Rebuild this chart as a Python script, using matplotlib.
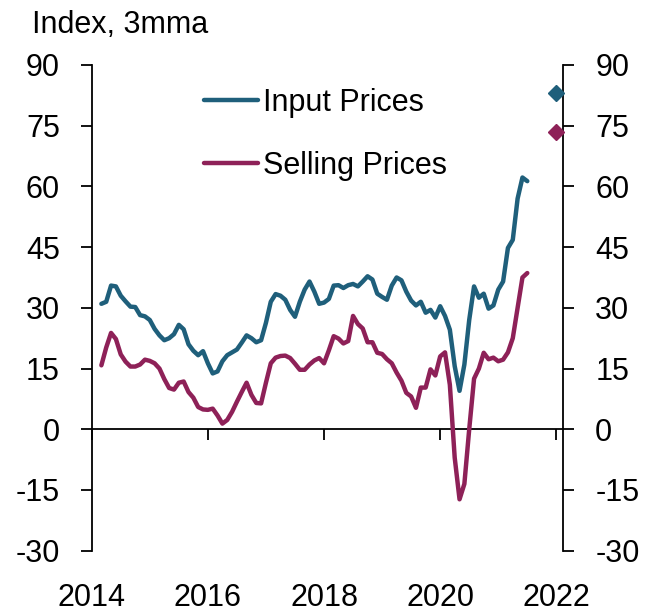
# -*- coding: utf-8 -*-
# Input vs selling prices, index 3mma

import numpy as np
import pandas as pd
import matplotlib
matplotlib.use('Agg')
import matplotlib.pyplot as plt

plt.rcParams['font.family'] = ['Liberation Sans', 'DejaVu Sans']
plt.rcParams['font.size'] = 22
plt.rcParams['axes.unicode_minus'] = False

# ---------------------------------- data -------------------------------------
dates = pd.date_range('2014-03-01', periods=89, freq='MS')

input_prices = [
    31.0, 31.5, 35.5, 35.3, 33.0, 31.6, 30.3, 30.2, 28.2, 27.9,
    27.0, 24.8, 23.2, 22.0, 22.5, 23.5, 25.8, 24.7, 21.0, 19.4,
    18.3, 19.3, 16.3, 13.8, 14.3, 16.8, 18.3, 19.0, 19.7, 21.4,
    23.2, 22.5, 21.5, 22.0, 26.3, 31.5, 33.4, 33.0, 32.0, 29.5,
    27.8, 31.5, 34.5, 36.5, 34.0, 31.0, 31.3, 32.2, 35.5, 35.6,
    34.9, 35.6, 35.9, 35.3, 36.5, 37.8, 37.0, 33.5, 32.7, 32.0,
    35.5, 37.5, 36.8, 34.0, 31.8, 30.6, 31.5, 28.8, 29.5, 27.6,
    30.4, 28.0, 24.6, 15.6, 9.5, 16.0, 27.0, 35.3, 32.5, 33.5,
    29.8, 30.6, 34.5, 36.5, 44.8, 46.8, 57.0, 62.2, 61.3,
]

selling_prices = [
    15.8, 20.2, 23.8, 22.3, 18.5, 16.7, 15.5, 15.5, 16.0, 17.2,
    16.9, 16.3, 15.0, 12.4, 10.2, 9.8, 11.5, 11.8, 9.2, 7.8,
    5.5, 4.9, 4.8, 5.1, 3.4, 1.4, 2.3, 4.3, 6.8, 9.2,
    11.5, 8.5, 6.5, 6.4, 11.5, 16.3, 17.7, 18.1, 18.2, 17.6,
    16.2, 14.7, 14.7, 16.0, 17.0, 17.6, 16.3, 19.5, 23.0, 22.4,
    21.2, 21.8, 28.0, 26.0, 24.9, 21.5, 21.5, 18.9, 18.6, 17.3,
    16.3, 14.0, 12.0, 9.0, 8.1, 5.3, 10.3, 10.3, 14.8, 13.3,
    18.0, 19.0, 11.0, -7.0, -17.3, -13.5, 0.0, 12.5, 15.0, 18.9,
    17.3, 17.7, 16.8, 17.2, 19.0, 22.5, 30.0, 37.5, 38.6,
]

# expectations (diamonds)
exp_date = 2022.0
exp_input = 83.2
exp_selling = 73.4

year_ticks = [2014, 2016, 2018, 2020, 2022]
y_ticks = [-30, -15, 0, 15, 30, 45, 60, 75, 90]

teal = '#1F5F7B'
plum = '#8E2158'

x = dates.year + (dates.month - 1) / 12.0

# -------------------------------- plotting -----------------------------------
W, H = 654, 613
fig = plt.figure(figsize=(W / 100, H / 100), dpi=100)
ax = fig.add_axes([91.7 / W, 1 - 550.7 / H, (563.3 - 91.7) / W, (550.7 - 65) / H])

ax.plot(x, input_prices, color=teal, lw=3.2, solid_capstyle='round', solid_joinstyle='round',
        label='Input Prices', zorder=3)
ax.plot(x, selling_prices, color=plum, lw=3.2, solid_capstyle='round', solid_joinstyle='round',
        label='Selling Prices', zorder=3)
ax.plot(exp_date, exp_input, 'D', ms=8.5, color=teal, clip_on=False, zorder=4)
ax.plot(exp_date, exp_selling, 'D', ms=8.5, color=plum, clip_on=False, zorder=4)

ax.set_xlim(2014, 2022.12)
ax.set_ylim(-30, 90)
ax.set_yticks(y_ticks)
ax.set_xticks(year_ticks)
ax.set_xticklabels([str(t) for t in year_ticks])

for s in ['top', 'bottom']:
    ax.spines[s].set_visible(False)
for s in ['left', 'right']:
    ax.spines[s].set_linewidth(1.3)

ax.tick_params(axis='y', left=True, right=True, labelleft=True, labelright=True,
               direction='out', length=8, width=1.3, pad=15)
ax.tick_params(axis='x', length=0, pad=23)

# zero line carrying the year ticks
zero = ax.secondary_xaxis(30 / 120)
zero.set_xticks(year_ticks)
zero.tick_params(axis='x', direction='out', length=8, width=1.3, labelbottom=False)
zero.spines['bottom'].set_linewidth(1.3)

leg = ax.legend(loc='upper left', bbox_to_anchor=(0.238, 0.953), frameon=False,
                borderpad=0, borderaxespad=0, handlelength=1.77, handletextpad=0.15,
                labelspacing=1.07, fontsize=22)

fig.text(32 / W, 1 - 33 / H, 'Index, 3mma', ha='left', va='baseline', fontsize=22)

fig.savefig('out.png', dpi=100)
